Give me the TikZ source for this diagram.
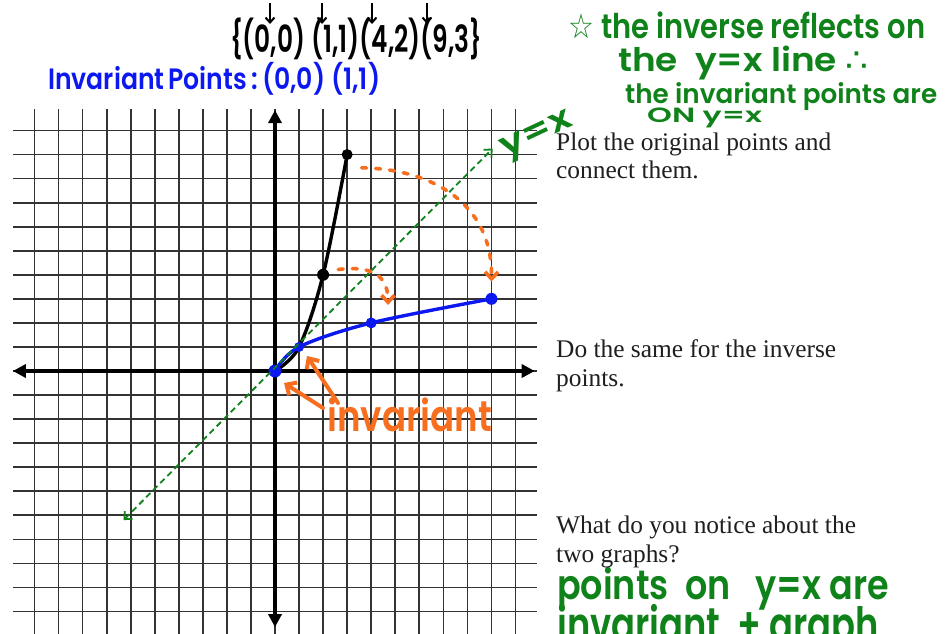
\documentclass[tikz,border=0pt]{standalone}
\usepackage{fontspec}
\usepackage{graphicx}
\setmainfont{Liberation Serif}
\newfontfamily\handfont{Poppins}[FontFace={sb}{n}{* SemiBold}]
\newfontfamily\symfont{DejaVu Sans}
\usetikzlibrary{arrows.meta}
\definecolor{hgreen}{RGB}{16,130,26}
\definecolor{horange}{RGB}{247,110,30}
\definecolor{hblue}{RGB}{12,24,240}
\newcommand{\handtxt}[3]{\resizebox*{#1}{#2}{\handfont\fontseries{sb}\selectfont #3}}
\begin{document}
\begin{tikzpicture}[x=1pt,y=-1pt,
  gridline/.style={line width=1.7pt, draw=black!80},
  axisline/.style={line width=4pt, draw=black, {Triangle[length=13pt,width=13pt]}-{Triangle[length=13pt,width=13pt]}},
  hand/.style={inner sep=0pt, anchor=north west},
  printed/.style={inner sep=0pt, anchor=base west, text=black!88, font=\fontsize{25.4}{29}\selectfont},
  ydx/.style={draw=hgreen, line width=1.8pt, dash pattern=on 6pt off 4pt, {Straight Barb[length=6pt,width=11pt]}-{Straight Barb[length=6pt,width=11pt]}},
  dotarrow/.style={draw=horange, line width=3.6pt, line cap=round, dash pattern=on 5pt off 9pt, -{Straight Barb[length=7pt,width=13pt]}},
  pointer/.style={draw=horange, line width=4pt, line cap=round, -{Straight Barb[length=8pt,width=15pt]}},
  downarr/.style={draw=black, line width=2pt, -{Straight Barb[length=5pt,width=9pt]}},
  bluecurve/.style={draw=hblue, line width=3.4pt, line cap=round},
  blackcurve/.style={draw=black, line width=3.4pt, line cap=round}
]
\path[use as bounding box] (0,0) rectangle (945,633);
\clip (0,0) rectangle (945,633);
\fill[white] (0,0) rectangle (945,633);

% ---------------- graph -----------------
\begin{scope}[shift={(275,371)}, x=24.05pt, y=24.05pt]
  \foreach \i in {-10,...,10} {\draw[gridline] (\i,-11.2) -- (\i,10.9);}
  \foreach \j in {-10,...,10} {\draw[gridline] (-10.9,\j) -- (10.9,\j);}
  \coordinate (xl) at (-10.9,0);
  \coordinate (xr) at (10.8,0);
  \coordinate (yt) at (0,10.85);
  \coordinate (yb) at (0,-10.65);
  \draw[axisline] (xl) -- (xr);
  \draw[axisline] (yb) -- (yt);

  % points
  \coordinate (P00) at (0,0);
  \coordinate (P11) at (1,1);
  \coordinate (P42) at (4,2);
  \coordinate (P93) at (9,3);
  \coordinate (Q24) at (2,4);
  \coordinate (Q39) at (3,9);

  \draw[blackcurve] plot[smooth, tension=0.55] coordinates {(P00) (P11) (Q24) (Q39)};
  \draw[bluecurve] plot[smooth, tension=0.55] coordinates {(P00) (P11) (P42) (P93)};
  \fill[black] (Q24) circle (6pt);
  \fill[black] (Q39) circle (5.5pt);
  \fill[hblue] (P00) circle (6.5pt);
  \fill[hblue] (P11) circle (5pt);
  \fill[hblue] (P42) circle (5.5pt);
  \fill[hblue] (P93) circle (6pt);

  % y = x line
  \coordinate (yxa) at (-6.3,-6.2);
  \coordinate (yxb) at (9.05,9.25);
  \draw[ydx] (yxa) -- (yxb);

  % orange dotted arrows
  \coordinate (ba) at (3.6,8.45);
  \coordinate (bb) at (9.0,3.72);
  \draw[dotarrow] (ba) .. controls (6.5,8.4) and (9.05,7.0) .. (bb);
  \coordinate (sa) at (2.63,4.22);
  \coordinate (sb) at (4.7,2.75);
  \draw[dotarrow] (sa) .. controls (3.7,4.35) and (4.7,4.2) .. (sb);
\end{scope}

% ---------------- orange "invariant" ----------------
\node[hand] (inv) at (327,398) {\color{horange}\handtxt{165pt}{34pt}{invariant}};
\coordinate (i1s) at (323,408);
\coordinate (i1e) at (284,383);
\coordinate (i2s) at (338,403);
\coordinate (i2e) at (307,356);
\draw[pointer] (i1s) -- (i1e);
\draw[pointer] (i2s) -- (i2e);

% ---------------- top handwriting ----------------
\node[hand] (pts) at (230,18) {\color{black}\handtxt{252pt}{42pt}{\{(0,0) (1,1)(4,2)(9,3\}}};
\foreach \k/\xx in {a/270,b/322,c/372,d/427} {
  \coordinate (da\k) at (\xx,3);
  \coordinate (db\k) at (\xx,24);
  \draw[downarr] (da\k) -- (db\k);
}
\node[hand] (invpts) at (48,62) {\color{hblue}\handtxt{332pt}{33pt}{Invariant\,Points\,:\,(0,0) (1,1)}};

% green notes
\node[hand] (g1) at (568,12) {\color{hgreen}\handtxt{357pt}{27pt}{{\symfont ☆}\ the inverse reflects on}};
\node[hand] (g2) at (618,46) {\color{hgreen}\handtxt{250pt}{34pt}{the\ \ y=x line {\symfont ∴}}};
\node[hand] (g3) at (625,82) {\color{hgreen}\handtxt{312pt}{28pt}{the invariant points are}};
\node[hand] (g4) at (647,108) {\color{hgreen}\handtxt{115pt}{20pt}{ON y=x}};
\node[inner sep=0pt, rotate=25] (glab) at (538,137) {\color{hgreen}\handtxt{76pt}{27pt}{y=x}};

\node[hand] (g5) at (557,567) {\color{hgreen}\handtxt{332pt}{43pt}{points\ \ on\ \ \ y=x are}};
\node[hand] (g6) at (557,604) {\color{hgreen}\handtxt{322pt}{50pt}{invariant\ \ + graph}};

% ---------------- printed text ----------------
\node[printed] (t1a) at (556,150) {Plot the original points and};
\node[printed] (t1b) at (556,178.5) {connect them.};
\node[printed] (t2a) at (556,357) {Do the same for the inverse};
\node[printed] (t2b) at (556,386) {points.};
\node[printed] (t3a) at (556,533) {What do you notice about the};
\node[printed] (t3b) at (556,562) {two graphs?};
\end{tikzpicture}
\end{document}
